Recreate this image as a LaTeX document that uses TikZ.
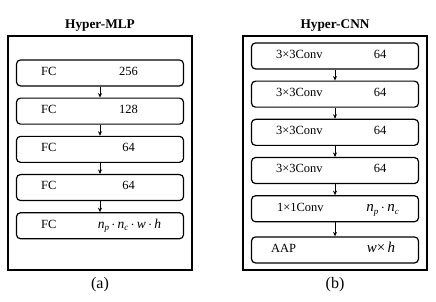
\documentclass[tikz,border=0pt]{standalone}
\usepackage{fontspec}
\setmainfont{Liberation Serif}
\usepackage{tikz}
\usetikzlibrary{arrows.meta,positioning,backgrounds}
\tikzset{
  framebox/.style={
    rectangle, draw=black, line width=1.3pt,
    minimum width=184pt, minimum height=234pt, inner sep=0pt
  },
  layerbox/.style={
    rectangle, rounded corners=4pt, draw=black, line width=1.2pt,
    minimum width=167pt, minimum height=26pt, inner sep=0pt
  },
  layertxt/.style={
    anchor=mid west, font=\fontsize{12.5}{14}\selectfont, inner sep=0pt
  },
  valtxt/.style={
    anchor=mid, font=\fontsize{#1}{15}\selectfont, inner sep=0pt
  },
  valtxt/.default=12.5,
  titletxt/.style={
    font=\fontsize{13.3}{15}\selectfont\bfseries, inner sep=0pt
  },
  captxt/.style={
    font=\fontsize{16}{18}\selectfont, inner sep=0pt
  },
  flowarrow/.style={
    -{Stealth[length=4.5pt,width=4pt]}, line width=0.8pt, color=black
  },
}
\newcommand{\ivar}[2]{\textit{#1}\raisebox{-0.45ex}{\fontsize{9}{10}\selectfont\textit{#2}}}

\begin{document}
\begin{tikzpicture}[x=1pt, y=-1pt]
  \useasboundingbox (0,0) rectangle (436,302);
  % Hyper-MLP
  \node[framebox] (mlpframe) at (100,153) {};
  \node[titletxt, above=4pt of mlpframe] (mlptitle) {Hyper-MLP};
  \node[captxt, below=7pt of mlpframe] (mlpcap) {(a)};
  \node[layerbox, below=24pt of mlpframe.north] (fc1) {};
  \node[layerbox, below=11pt of fc1] (fc2) {};
  \node[layerbox, below=11pt of fc2] (fc3) {};
  \node[layerbox, below=11pt of fc3] (fc4) {};
  \node[layerbox, below=11pt of fc4] (fc5) {};
  \node[layertxt] (fc1l) at ([xshift=25pt]fc1.west) {FC};
  \node[layertxt] (fc2l) at ([xshift=25pt]fc2.west) {FC};
  \node[layertxt] (fc3l) at ([xshift=25pt]fc3.west) {FC};
  \node[layertxt] (fc4l) at ([xshift=25pt]fc4.west) {FC};
  \node[layertxt] (fc5l) at ([xshift=25pt]fc5.west) {FC};
  \node[valtxt] (fc1v) at ([xshift=28.5pt]fc1.center) {256};
  \node[valtxt] (fc2v) at ([xshift=28.5pt]fc2.center) {128};
  \node[valtxt] (fc3v) at ([xshift=28.5pt]fc3.center) {64};
  \node[valtxt] (fc4v) at ([xshift=28.5pt]fc4.center) {64};
  \node[valtxt=13.5] (fc5v) at ([xshift=29.5pt]fc5.center)
    {\ivar{n}{p}\,$\cdot$\,\ivar{n}{c}\,$\cdot$\,\textit{w}\,$\cdot$\,\textit{h}};
  \draw[flowarrow] (fc1) -- (fc2);
  \draw[flowarrow] (fc2) -- (fc3);
  \draw[flowarrow] (fc3) -- (fc4);
  \draw[flowarrow] (fc4) -- (fc5);
  % Hyper-CNN
  \node[framebox] (cnnframe) at (335,153) {};
  \node[titletxt, above=4pt of cnnframe] (cnntitle) {Hyper-CNN};
  \node[captxt, below=7pt of cnnframe] (cnncap) {(b)};
  \node[layerbox, below=7pt of cnnframe.north] (cv1) {};
  \node[layerbox, below=11pt of cv1] (cv2) {};
  \node[layerbox, below=11pt of cv2] (cv3) {};
  \node[layerbox, below=11pt of cv3] (cv4) {};
  \node[layerbox, below=11pt of cv4] (cv5) {};
  \node[layerbox, below=14pt of cv5] (aap) {};
  \node[layertxt] (cv1l) at ([xshift=25pt]cv1.west) {3×3Conv};
  \node[layertxt] (cv2l) at ([xshift=25pt]cv2.west) {3×3Conv};
  \node[layertxt] (cv3l) at ([xshift=25pt]cv3.west) {3×3Conv};
  \node[layertxt] (cv4l) at ([xshift=25pt]cv4.west) {3×3Conv};
  \node[layertxt] (cv5l) at ([xshift=26pt]cv5.west) {1×1Conv};
  \node[layertxt] (aapl) at ([xshift=20pt]aap.west) {AAP};
  \node[valtxt] (cv1v) at ([xshift=45pt]cv1.center) {64};
  \node[valtxt] (cv2v) at ([xshift=45pt]cv2.center) {64};
  \node[valtxt] (cv3v) at ([xshift=45pt]cv3.center) {64};
  \node[valtxt] (cv4v) at ([xshift=45pt]cv4.center) {64};
  \node[valtxt=15] (cv5v) at ([xshift=47.5pt]cv5.center)
    {\ivar{n}{p}\,$\cdot$\,\ivar{n}{c}};
  \node[valtxt=15] (aapv) at ([xshift=46pt]aap.center) {\textit{w}×\,\textit{h}};
  \draw[flowarrow] (cv1) -- (cv2);
  \draw[flowarrow] (cv2) -- (cv3);
  \draw[flowarrow] (cv3) -- (cv4);
  \draw[flowarrow] (cv4) -- (cv5);
  \draw[flowarrow] (cv5) -- (aap);
\end{tikzpicture}
\end{document}
